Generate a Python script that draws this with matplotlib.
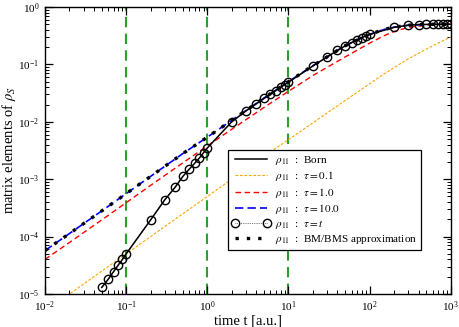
import numpy as np
import matplotlib
matplotlib.use("Agg")
import matplotlib.pyplot as plt
from matplotlib.ticker import LogLocator, NullFormatter

plt.rcParams['font.family'] = ['Liberation Serif', 'DejaVu Serif']
plt.rcParams['mathtext.fontset'] = 'stix'

# Born result, sampled at the tau=t marker positions
t_born = [0.05, 0.06, 0.07, 0.08, 0.09, 0.1, 0.2, 0.3, 0.4, 0.5, 0.6, 0.7, 0.8, 0.9, 1,
          2, 3, 4, 5, 6, 7, 8, 9, 10, 20, 30, 40, 50, 60, 70, 80, 90, 100,
          200, 300, 400, 500, 600, 700, 800, 900, 1000]
rho_born = [1.3e-5, 1.8e-5, 2.45e-5, 3.2e-5, 4.0e-5, 5.0e-5, 1.95e-4, 4.4e-4, 7.2e-4, 1.12e-3,
            1.5e-3, 1.9e-3, 2.35e-3, 2.9e-3, 3.5e-3, 1.0e-2, 1.55e-2, 2.05e-2, 2.55e-2, 3.05e-2,
            3.5e-2, 4.0e-2, 4.45e-2, 4.9e-2, 9.4e-2, 0.135, 0.175, 0.21, 0.24, 0.267, 0.292,
            0.313, 0.332, 0.443, 0.481, 0.494, 0.498, 0.499, 0.5, 0.5, 0.5, 0.5]
rho_taut = rho_born

# other curves
t_grid = [0.01, 0.02, 0.05, 0.1, 0.2, 0.5, 1, 2, 5, 10, 20, 50, 100, 150, 200, 300, 500, 700, 1000]
rho_tau01 = [5e-6, 1e-5, 2.5e-5, 5e-5, 1e-4, 2.5e-4, 5e-4, 1e-3, 2.5e-3, 4.9e-3, 9.6e-3,
             2.35e-2, 4.6e-2, 6.8e-2, 8.8e-2, 0.125, 0.185, 0.235, 0.3]
rho_tau1 = [4.0e-5, 7.9e-5, 1.95e-4, 3.9e-4, 7.8e-4, 1.93e-3, 3.8e-3, 7.4e-3, 1.78e-2, 3.4e-2,
            6.4e-2, 0.135, 0.235, 0.315, 0.375, 0.44, 0.485, 0.496, 0.5]
rho_tau10 = [5.7e-5, 1.13e-4, 2.8e-4, 5.6e-4, 1.12e-3, 2.8e-3, 5.4e-3, 1.06e-2, 2.6e-2, 5.0e-2,
             9.5e-2, 0.212, 0.334, 0.405, 0.445, 0.482, 0.498, 0.5, 0.5]
rho_bm = rho_tau10

vlines_t = [0.1, 1, 10]

fig = plt.figure(figsize=(4.6, 3.27), dpi=100)
ax = fig.add_axes([0.0978, 0.1009, 0.8822, 0.8777])

for v in vlines_t:
    ax.axvline(v, color='#2ca02c', lw=1.5, dashes=(5, 3), zorder=1)

ax.plot(t_born, rho_born, color='black', lw=1.1, label=r'$\rho_{11}$  :  Born', zorder=4)
ax.plot(t_grid, rho_tau01, color='#ffa500', lw=0.8, dashes=(2.5, 1.5), label=r'$\rho_{11}$  :  $\tau = 0.1$', zorder=2)
ax.plot(t_grid, rho_tau1, color='red', lw=1.0, dashes=(4, 2.5), label=r'$\rho_{11}$  :  $\tau = 1.0$', zorder=2)
ax.plot(t_grid, rho_tau10, color='blue', lw=1.2, dashes=(5, 2.5), label=r'$\rho_{11}$  :  $\tau = 10.0$', zorder=3)
ax.plot(t_born, rho_taut, color='black', lw=0.5, ls=':', marker='o', ms=6, mfc='none',
        mec='black', mew=1.0, label=r'$\rho_{11}$  :  $\tau = t$', zorder=5)
ax.plot(t_grid, rho_bm, color='black', lw=2.4, dashes=(1, 2.4),
        label=r'$\rho_{11}$  :  BM/BMS approximation', zorder=3)

ax.set_xscale('log')
ax.set_yscale('log')
ax.set_xlim(1e-2, 1e3)
ax.set_ylim(1e-5, 1e0)

for axis in (ax.xaxis, ax.yaxis):
    axis.set_major_locator(LogLocator(base=10, numticks=20))
    axis.set_minor_locator(LogLocator(base=10, subs=np.arange(2, 10), numticks=20))
    axis.set_minor_formatter(NullFormatter())
ax.tick_params(which='both', direction='in', top=True, right=True, labelsize=8)
ax.tick_params(axis='x', which='both', pad=4)
ax.tick_params(axis='y', which='both', pad=4)
ax.tick_params(which='major', length=6, width=0.9)
ax.tick_params(which='minor', length=3, width=0.7)
for s in ax.spines.values():
    s.set_linewidth(1.0)

ax.set_xlabel('time t [a.u.]', fontsize=10.5, labelpad=0)
ax.set_ylabel(r'matrix elements of $\rho_S$', fontsize=10.5, labelpad=0)

leg = ax.legend(loc='lower left', bbox_to_anchor=(0.451, 0.153), fontsize=8, numpoints=2,
                handlelength=3.5, handletextpad=0.4, labelspacing=0.2, borderpad=0.35,
                fancybox=False, framealpha=1, edgecolor='black', borderaxespad=0)
leg.get_frame().set_linewidth(0.9)

fig.savefig('out.png', dpi=100)
